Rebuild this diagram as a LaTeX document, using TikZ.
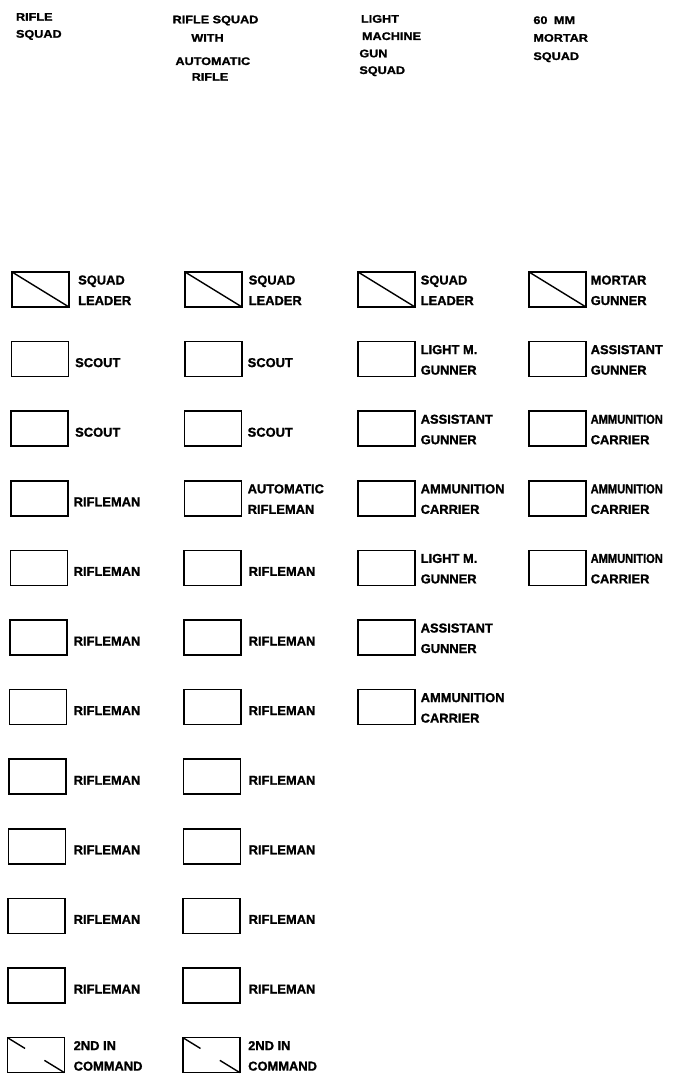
\documentclass[tikz,border=0pt]{standalone}
\usepackage{fontspec}
\setmainfont{Liberation Sans}[BoldFeatures={FakeBold=1.3}]
\newfontfamily\hdfont{Liberation Sans}[FakeStretch=1.15,BoldFeatures={FakeBold=1.3}]
\usetikzlibrary{calc}
\tikzset{
  unitbox/.style={draw, line width=1.6pt, minimum width=57pt, minimum height=35pt, inner sep=0pt, outer sep=0pt},
  diagline/.style={line width=1.4pt},
  lab/.style={font=\bfseries\fontsize{12.9}{15}\selectfont, inner sep=0pt, anchor=base west},
  hd/.style={font=\hdfont\bfseries\fontsize{11}{13}\selectfont, inner sep=0pt},
}
% box: name, left x, row
\newcommand\ubox[3]{\node[unitbox] (#1) at ({#2+28.5},{289.5+69.6*#3}) {};}
\newcommand\diagfull[1]{\draw[diagline] (#1.north west) -- (#1.south east);}
\newcommand\diagbroken[1]{%
  \draw[diagline] (#1.north west) -- ($(#1.north west)!0.31!(#1.south east)$);
  \draw[diagline] ($(#1.north west)!0.65!(#1.south east)$) -- (#1.south east);}
% one-line label: name, x, row, text
\newcommand\onelab[4]{\node[lab] (#1-t) at (#2,{289.5+69.6*#3+8}) {#4};}
% two-line label: name, x, row, line1, line2
\newcommand\twolab[5]{%
  \node[lab] (#1-a) at (#2,{289.5+69.6*#3-5}) {#4};
  \node[lab] (#1-b) at (#2,{289.5+69.6*#3+15.5}) {#5};}
\begin{document}
\begin{tikzpicture}[x=1pt,y=-1pt]
\useasboundingbox (0,0) rectangle (679,1075);
% headers
\node[hd,anchor=base west] (h1a) at (15.8,20.7) {RIFLE};
\node[hd,anchor=base west] (h1b) at (15.8,37.7) {SQUAD};
\node[hd,anchor=base] (h2a) at (215.5,23.3) {RIFLE SQUAD};
\node[hd,anchor=base] (h2b) at (207.5,41.7) {WITH};
\node[hd,anchor=base] (h2c) at (212.8,65) {AUTOMATIC};
\node[hd,anchor=base] (h2d) at (210,80.7) {RIFLE};
\node[hd,anchor=base west] (h3a) at (360.8,22.7) {LIGHT};
\node[hd,anchor=base west] (h3b) at (361.8,40) {MACHINE};
\node[hd,anchor=base west] (h3c) at (359.2,57.3) {GUN};
\node[hd,anchor=base west] (h3d) at (359.2,74) {SQUAD};
\node[hd,anchor=base west] (h4a) at (533.2,24) {60\hspace{3pt} MM};
\node[hd,anchor=base west] (h4b) at (533.2,41.7) {MORTAR};
\node[hd,anchor=base west] (h4c) at (533.2,60) {SQUAD};
% column 1: rifle squad
\foreach \r in {0,...,11}{\ubox{a\r}{12-0.42*\r}{\r}}
\diagfull{a0}
\diagbroken{a11}
\twolab{a0}{78}{0}{SQUAD}{LEADER}
\onelab{a1}{75}{1}{SCOUT}
\onelab{a2}{75}{2}{SCOUT}
\foreach \r in {3,...,10}{\onelab{a\r}{73.5}{\r}{RIFLEMAN}}
\twolab{a11}{73.5}{11}{2ND IN}{COMMAND}
% column 2: rifle squad with automatic rifle
\foreach \r in {0,...,11}{\ubox{b\r}{185-0.2*\r}{\r}}
\diagfull{b0}
\diagbroken{b11}
\twolab{b0}{248.5}{0}{SQUAD}{LEADER}
\onelab{b1}{247.5}{1}{SCOUT}
\onelab{b2}{247.5}{2}{SCOUT}
\twolab{b3}{247.5}{3}{AUTOMATIC}{RIFLEMAN}
\foreach \r in {4,...,10}{\onelab{b\r}{248.5}{\r}{RIFLEMAN}}
\twolab{b11}{248}{11}{2ND IN}{COMMAND}
% column 3: light machine gun squad
\foreach \r in {0,...,6}{\ubox{c\r}{358}{\r}}
\diagfull{c0}
\twolab{c0}{420.5}{0}{SQUAD}{LEADER}
\twolab{c1}{420.5}{1}{LIGHT M.}{GUNNER}
\twolab{c2}{420.5}{2}{ASSISTANT}{GUNNER}
\twolab{c3}{420.5}{3}{AMMUNITION}{CARRIER}
\twolab{c4}{420.5}{4}{LIGHT M.}{GUNNER}
\twolab{c5}{420.5}{5}{ASSISTANT}{GUNNER}
\twolab{c6}{420.5}{6}{AMMUNITION}{CARRIER}
% column 4: 60 mm mortar squad
\foreach \r in {0,...,4}{\ubox{d\r}{529}{\r}}
\diagfull{d0}
\twolab{d0}{590.5}{0}{MORTAR}{GUNNER}
\twolab{d1}{590.5}{1}{ASSISTANT}{GUNNER}
\twolab{d2}{590.5}{2}{\scalebox{0.86}[1]{AMMUNITION}}{CARRIER}
\twolab{d3}{590.5}{3}{\scalebox{0.86}[1]{AMMUNITION}}{CARRIER}
\twolab{d4}{590.5}{4}{\scalebox{0.86}[1]{AMMUNITION}}{CARRIER}
\end{tikzpicture}
\end{document}
